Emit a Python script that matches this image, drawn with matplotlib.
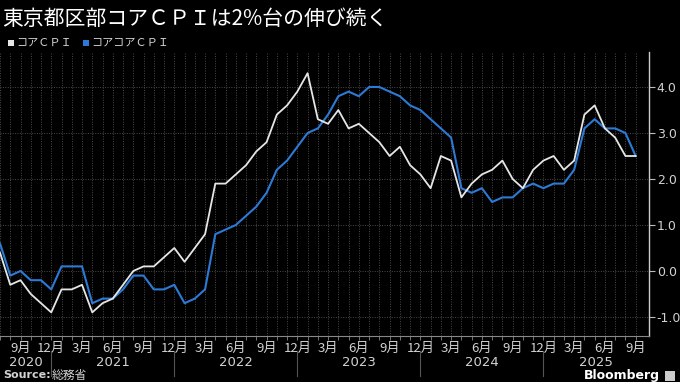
import matplotlib
matplotlib.use("Agg")
import matplotlib.pyplot as plt
import matplotlib.transforms as mtransforms
import numpy as np

plt.rcParams['font.family'] = ['Noto Sans CJK JP', 'DejaVu Sans']

# Monthly data, Jul 2020 - Sep 2025 (y/y %)
start_year, start_month = 2020, 7
core_cpi = [0.4, -0.3, -0.2, -0.5, -0.7, -0.9,
            -0.4, -0.4, -0.3, -0.9, -0.7, -0.6, -0.3, 0.0, 0.1, 0.1, 0.3, 0.5,
            0.2, 0.5, 0.8, 1.9, 1.9, 2.1, 2.3, 2.6, 2.8, 3.4, 3.6, 3.9,
            4.3, 3.3, 3.2, 3.5, 3.1, 3.2, 3.0, 2.8, 2.5, 2.7, 2.3, 2.1,
            1.8, 2.5, 2.4, 1.6, 1.9, 2.1, 2.2, 2.4, 2.0, 1.8, 2.2, 2.4,
            2.5, 2.2, 2.4, 3.4, 3.6, 3.1, 2.9, 2.5, 2.5]
core_core_cpi = [0.6, -0.1, 0.0, -0.2, -0.2, -0.4,
                 0.1, 0.1, 0.1, -0.7, -0.6, -0.6, -0.4, -0.1, -0.1, -0.4, -0.4, -0.3,
                 -0.7, -0.6, -0.4, 0.8, 0.9, 1.0, 1.2, 1.4, 1.7, 2.2, 2.4, 2.7,
                 3.0, 3.1, 3.4, 3.8, 3.9, 3.8, 4.0, 4.0, 3.9, 3.8, 3.6, 3.5,
                 3.3, 3.1, 2.9, 1.8, 1.7, 1.8, 1.5, 1.6, 1.6, 1.8, 1.9, 1.8,
                 1.9, 1.9, 2.2, 3.1, 3.3, 3.1, 3.1, 3.0, 2.5]
series_names = ['コアＣＰＩ', 'コアコアＣＰＩ']
yticks = [-1.0, 0.0, 1.0, 2.0, 3.0, 4.0]
title = '東京都区部コアＣＰＩは2%台の伸び続く'
source = '総務省'

n = len(core_cpi)
x = np.arange(n)
months = [(start_month - 1 + i) % 12 + 1 for i in range(n)]
years = [start_year + (start_month - 1 + i) // 12 for i in range(n)]

BG = '#000000'
WHITE_LINE = '#e6e6e6'
BLUE_LINE = '#2d7ad6'
GRID = '#4a4a4a'
TXT = '#d2d2d2'

W, H = 680, 382
AX_TOP, AX_BOT, AX_RIGHT = 52, 336, 649
fig = plt.figure(figsize=(6.8, 3.82), dpi=100, facecolor=BG)
ax = fig.add_axes([0.0, (H - AX_BOT) / H, AX_RIGHT / W, (AX_BOT - AX_TOP) / H])
ax.set_facecolor(BG)

def ay(py):
    # pixel row -> axes fraction
    return (AX_BOT - py) / (AX_BOT - AX_TOP)

ax.plot(x, core_core_cpi, color=BLUE_LINE, lw=1.5, zorder=3)
ax.plot(x, core_cpi, color=WHITE_LINE, lw=1.3, zorder=4)

xmax = 63.3
ax.set_xlim(0, xmax)
ax.set_ylim((271 - AX_BOT) / 46, (271 - AX_TOP) / 46)

# y axis on right
ax.yaxis.tick_right()
ax.set_yticks(yticks)
ax.set_yticklabels([f'{v:.1f}' for v in yticks], fontsize=9, family='DejaVu Sans')
ax.tick_params(axis='y', colors='#bbbbbb', length=4, width=0.8, pad=1.5, labelcolor=TXT)

# x ticks
ax.set_xticks(x, minor=True)
lab_idx = [i for i in range(n) if months[i] in (3, 6, 9, 12)]
ax.set_xticks(lab_idx)
ax.set_xticklabels([f'{months[i]}月' for i in lab_idx], fontsize=9.5)
ax.tick_params(axis='x', which='both', colors='#888888', length=3, width=0.6, pad=1.5, labelcolor=TXT)

ax.grid(True, which='both', axis='x', color=GRID, linestyle=(0, (1, 1.5)), lw=0.7)
ax.grid(True, which='major', axis='y', color=GRID, linestyle=(0, (1, 1.5)), lw=0.7)

for s in ['top', 'left']:
    ax.spines[s].set_visible(False)
ax.spines['right'].set_color('#cccccc')
ax.spines['bottom'].set_color('#888888')
ax.spines['right'].set_linewidth(1.0)
ax.spines['bottom'].set_linewidth(0.8)

# year labels and separators
trans = mtransforms.blended_transform_factory(ax.transData, ax.transAxes)
uniq_years = sorted(set(years))
for yr in uniq_years:
    idx = [i for i in range(n) if years[i] == yr]
    lo = idx[0] - 1 if idx[0] > 0 else 0
    hi = xmax if yr == uniq_years[-1] else idx[-1]
    ax.text((lo + hi) / 2, ay(363), str(yr), transform=trans, ha='center', va='center',
            color=TXT, fontsize=9.5, family='DejaVu Sans')
    if months[idx[-1]] == 12:
        ax.plot([idx[-1], idx[-1]], [ay(351), ay(376)], transform=trans, color='#555555',
                lw=0.8, clip_on=False)

# end label
last = core_cpi[-1]
ax.plot([1.004], [last], marker='<', ms=7, color='white', transform=trans, clip_on=False, zorder=5)
ax.text(1.013, last, f'{last:.1f}', transform=trans, ha='left', va='center', color='black',
        fontsize=9, family='DejaVu Sans',
        bbox=dict(boxstyle='square,pad=0.15', facecolor='white', edgecolor='white'), clip_on=False)

# title
fig.text(2 / W, 1 - 19 / H, title, color='white', fontsize=15, ha='left', va='center')

# legend
fig.patches.append(plt.Rectangle((8 / W, 1 - 46 / H), 6 / W, 6 / H, transform=fig.transFigure,
                                 facecolor=WHITE_LINE, edgecolor='none'))
fig.text(16 / W, 1 - 42.5 / H, series_names[0], color=TXT, fontsize=8, ha='left', va='center')
fig.patches.append(plt.Rectangle((83 / W, 1 - 46 / H), 6 / W, 6 / H, transform=fig.transFigure,
                                 facecolor=BLUE_LINE, edgecolor='none'))
fig.text(91 / W, 1 - 42.5 / H, series_names[1], color=TXT, fontsize=8, ha='left', va='center')

# source
fig.text(3 / W, 1 - 375.5 / H, 'Source:', color=TXT, fontsize=8, fontweight='bold',
         ha='left', va='center', family='DejaVu Sans')
fig.text(52 / W, 1 - 375.5 / H, source, color=TXT, fontsize=8.5, ha='left', va='center')

# Bloomberg
fig.text(660 / W, 1 - 376 / H, 'Bloomberg', color='white', fontsize=9, fontweight='bold',
         ha='right', va='center', family='DejaVu Sans')
fig.patches.append(plt.Rectangle((665 / W, 1 - 381 / H), 10 / W, 10 / H, transform=fig.transFigure,
                                 facecolor='#cccccc', edgecolor='none'))

fig.savefig('out.png', dpi=100, facecolor=BG)
